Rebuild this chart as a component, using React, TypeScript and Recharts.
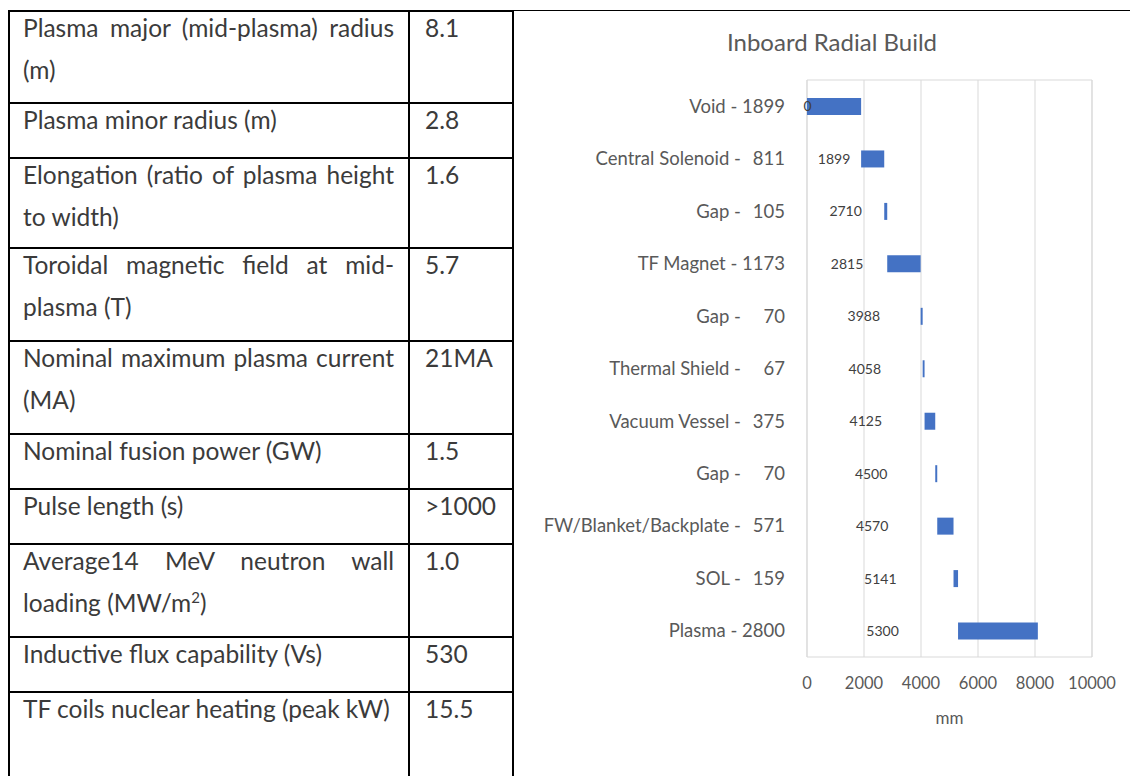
import { Bar, BarChart, CartesianGrid, Label, LabelList, ReferenceArea, XAxis, YAxis } from 'recharts'

// chart values (mm)
const categories = [
  'Void',
  'Central Solenoid',
  'Gap',
  'TF Magnet',
  'Gap',
  'Thermal Shield',
  'Vacuum Vessel',
  'Gap',
  'FW/Blanket/Backplate',
  'SOL',
  'Plasma',
]
const startValues = [0, 1899, 2710, 2815, 3988, 4058, 4125, 4500, 4570, 5141, 5300]
const thicknessValues = [1899, 811, 105, 1173, 70, 67, 375, 70, 571, 159, 2800]
const xTicks = [0, 2000, 4000, 6000, 8000, 10000]

// table beside the chart
const paramLabels = [
  ['Plasma major (mid-plasma) radius', '(m)'],
  ['Plasma minor radius (m)'],
  ['Elongation (ratio of plasma height', 'to width)'],
  ['Toroidal magnetic field at mid-', 'plasma (T)'],
  ['Nominal maximum plasma current', '(MA)'],
  ['Nominal fusion power (GW)'],
  ['Pulse length (s)'],
  ['Average14 MeV neutron wall', 'loading (MW/m2)'],
  ['Inductive flux capability (Vs)'],
  ['TF coils nuclear heating (peak kW)'],
]
const paramValues = ['8.1', '2.8', '1.6', '5.7', '21MA', '1.5', '>1000', '1.0', '530', '15.5']
const rowEdges = [10, 102, 157, 247, 340, 433, 488, 543, 636, 691, 776]

const chartData = categories.map((name, i) => ({
  idx: i,
  name,
  start: startValues[i],
  thickness: thicknessValues[i],
}))

const FONT = 'Lato, "Open Sans", sans-serif'
const TEXT = '#3b3b3b'
const MUTED = '#595959'

function CategoryTick(props: any) {
  const { x, y, payload } = props
  const i = Number(payload.value)
  const v = thicknessValues[i]
  const common = { y, dy: '0.355em', textAnchor: 'end' as const, fill: MUTED, fontSize: 18.5, fontFamily: FONT }
  // excel pads short numbers, so the dash lines up; 4-digit ones just follow the dash
  if (v >= 1000) {
    return (
      <text x={x} {...common}>
        {`${categories[i]} - ${v}`}
      </text>
    )
  }
  return (
    <g>
      <text x={x - 44} {...common}>
        {categories[i] + ' -'}
      </text>
      <text x={x} {...common}>
        {v}
      </text>
    </g>
  )
}

function LabelCell({ text, last }: { text: string; last: boolean }) {
  const sup = text.endsWith('m2)')
  return (
    <div
      style={{
        height: 42,
        lineHeight: '42px',
        whiteSpace: 'nowrap',
        textAlign: last ? 'left' : 'justify',
        textAlignLast: last ? 'left' : 'justify',
      }}
    >
      {sup ? (
        <>
          {text.slice(0, -2)}
          <sup style={{ fontSize: 15, lineHeight: 0 }}>2</sup>)
        </>
      ) : (
        text
      )}
    </div>
  )
}

function ParamTable() {
  return (
    <>
      {rowEdges.slice(0, -1).map((top, r) => (
        <div key={r}>
          <div style={{ position: 'absolute', left: 8, top, width: 506, height: 2, background: '#000' }} />
          <div
            style={{
              position: 'absolute',
              left: 23,
              top: top - 3,
              width: 371,
              fontSize: 24.5,
              color: TEXT,
              fontFamily: FONT,
            }}
          >
            {paramLabels[r].map((line, k) => (
              <LabelCell key={k} text={line} last={k === paramLabels[r].length - 1} />
            ))}
          </div>
          <div
            style={{
              position: 'absolute',
              left: 425,
              top: top - 3,
              lineHeight: '42px',
              fontSize: 24.5,
              color: TEXT,
              fontFamily: FONT,
            }}
          >
            {paramValues[r]}
          </div>
        </div>
      ))}
      <div style={{ position: 'absolute', left: 8, top: 10, width: 2, height: 766, background: '#000' }} />
      <div style={{ position: 'absolute', left: 408, top: 10, width: 2, height: 766, background: '#000' }} />
      <div style={{ position: 'absolute', left: 512, top: 10, width: 2, height: 766, background: '#000' }} />
      <div style={{ position: 'absolute', left: 514, top: 10, width: 616, height: 1, background: '#000' }} />
    </>
  )
}

export default function App() {
  return (
    <div
      style={{
        position: 'absolute',
        left: 0,
        top: 0,
        width: 1131,
        height: 776,
        background: '#fff',
        overflow: 'hidden',
      }}
    >
      <ParamTable />
      <div
        style={{
          position: 'absolute',
          left: 632,
          top: 29,
          width: 400,
          textAlign: 'center',
          fontFamily: FONT,
          fontSize: 24,
          lineHeight: '26px',
          color: MUTED,
        }}
      >
        Inboard Radial Build
      </div>
      <div style={{ position: 'absolute', left: 514, top: 10 }}>
        <BarChart
          width={617}
          height={766}
          data={chartData}
          layout="vertical"
          margin={{ top: 70, right: 39, bottom: 49, left: 0 }}
          barSize={17}
        >
          <CartesianGrid horizontal={false} stroke="#d9d9d9" />
          <ReferenceArea x1={0} x2={10000} fill="none" stroke="#d9d9d9" />
          <XAxis
            type="number"
            domain={[0, 10000]}
            ticks={xTicks}
            axisLine={false}
            tickLine={false}
            tickSize={0}
            tickMargin={20}
            height={70}
            tick={{ fill: MUTED, fontSize: 16.5, fontFamily: FONT }}
          >
            <Label
              value="mm"
              position="insideBottom"
              offset={3}
              style={{ fill: MUTED, fontSize: 17, fontFamily: FONT }}
            />
          </XAxis>
          <YAxis
            type="category"
            dataKey="idx"
            width={293}
            interval={0}
            axisLine={false}
            tickLine={false}
            tickSize={0}
            tickMargin={22}
            tick={<CategoryTick />}
          />
          <Bar dataKey="start" stackId="a" fill="transparent" minPointSize={1} isAnimationActive={false}>
            <LabelList dataKey="start" position="center" fill="#404040" fontSize={14} fontFamily={FONT} />
          </Bar>
          <Bar dataKey="thickness" stackId="a" fill="#4472C4" isAnimationActive={false} />
        </BarChart>
      </div>
    </div>
  )
}
